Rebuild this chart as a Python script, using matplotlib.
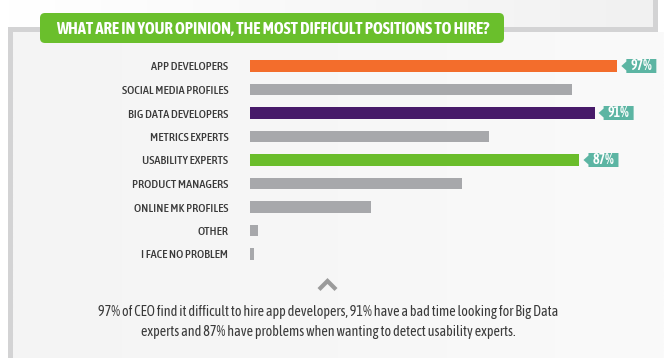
import numpy as np
import matplotlib
matplotlib.use("Agg")
import matplotlib.pyplot as plt
import matplotlib.transforms as mtransforms
from matplotlib.patches import Rectangle, FancyBboxPatch, Polygon

# data
positions = ["APP DEVELOPERS", "SOCIAL MEDIA PROFILES", "BIG DATA DEVELOPERS",
             "METRICS EXPERTS", "USABILITY EXPERTS", "PRODUCT MANAGERS",
             "ONLINE MK PROFILES", "OTHER", "I FACE NO PROBLEM"]
percent = [97, 85, 91, 63, 87, 56, 32, 2, 1]
bar_colors = ["#f36d2c", "#a7a8ab", "#471a69", "#a7a8ab", "#6abd2b",
              "#a7a8ab", "#a7a8ab", "#a7a8ab", "#a7a8ab"]
tagged = ["APP DEVELOPERS", "BIG DATA DEVELOPERS", "USABILITY EXPERTS"]

title = "WHAT ARE IN YOUR OPINION, THE MOST DIFFICULT POSITIONS TO HIRE?"
note = ("97% of CEO find it difficult to hire app developers, 91% have a bad time looking for Big Data\n"
        "experts and 87% have problems when wanting to detect usability experts.")

NARROW = ["Asap Condensed", "DejaVu Sans"]
W, H = 664, 358

fig = plt.figure(figsize=(W / 100, H / 100), dpi=100, facecolor="white")

# background / frame, in pixel coordinates
bg = fig.add_axes([0, 0, 1, 1])
bg.axis("off")

grad = np.linspace(0, 1, 256)[None, :]
top_cmap = matplotlib.colors.LinearSegmentedColormap.from_list("t", ["#ffffff", "#f1f1f1"])
low_cmap = matplotlib.colors.LinearSegmentedColormap.from_list("l", ["#f4f4f4", "#fafafa"])
bg.imshow(grad, cmap=top_cmap, extent=[8, 653, 27, 0], aspect="auto", zorder=0)
bg.imshow(grad, cmap=low_cmap, extent=[13, W, H, 32], aspect="auto", zorder=0)
frame = "#d3d3d4"
bg.add_patch(Rectangle((8, 27), 650, 5, color=frame, lw=0, zorder=1))
bg.add_patch(Rectangle((653, 0), 5, 32, color=frame, lw=0, zorder=1))
bg.add_patch(Rectangle((8, 27), 5, H - 27, color=frame, lw=0, zorder=1))
bg.set_xlim(0, W)
bg.set_ylim(H, 0)

# title box
bg.add_patch(FancyBboxPatch((40, 13), 464, 30, boxstyle="round,pad=0,rounding_size=5",
                            fc="#6abf2c", ec="none", zorder=2))
bg.text(273, 28.5, title, ha="center", va="center", color="white", fontsize=12,
        fontweight="bold", family=NARROW, zorder=3)

# caret and note
bg.plot([319, 327.5, 336], [289.5, 281, 289.5], color="#9b9b9b", lw=3, solid_capstyle="butt",
        solid_joinstyle="miter", zorder=2)
bg.text(328, 322, note, ha="center", va="center", color="#3a3a3a", fontsize=10.2,
        family=NARROW, linespacing=1.5, zorder=2)

# bar chart
x0, px_per_unit = 250, 3.787
y_first, step = 66, 23.5
top_px = y_first - step / 2
bot_px = y_first + step * (len(positions) - 0.5)
ax = fig.add_axes([x0 / W, 1 - bot_px / H, 100 * px_per_unit / W, (bot_px - top_px) / H])
ax.patch.set_alpha(0)
y = np.arange(len(positions))
ax.barh(y, percent, height=0.51, color=bar_colors, zorder=2)
ax.set_xlim(0, 100)
ax.set_ylim(len(positions) - 0.5, -0.5)
ax.set_yticks(y)
ax.set_yticklabels(positions, family=NARROW, fontsize=8.8, fontweight="medium", color="#3a3a3a")
ax.tick_params(axis="y", length=0, pad=15.5)
ax.set_xticks([])
for s in ax.spines.values():
    s.set_visible(False)

# value tags (arrow shaped, pixel offsets from bar end)
px = mtransforms.Affine2D().scale(fig.dpi / 100)
for i, (name, v) in enumerate(zip(positions, percent)):
    if name not in tagged:
        continue
    anchor = mtransforms.ScaledTranslation(v, i, ax.transData)
    verts = [(4, 0), (9, 4.5), (9, 7), (39, 7), (39, -7), (9, -7), (9, -4.5)]
    ax.add_patch(Polygon(verts, closed=True, fc="#5cb5a3", ec="none",
                         transform=px + anchor, clip_on=False, zorder=3))
    ax.annotate(f"{v}%", (v, i), xytext=(24 * 0.72, 0), textcoords="offset points",
                ha="center", va="center", color="white", fontsize=10,
                fontweight="semibold", family=NARROW, annotation_clip=False, zorder=4)

fig.savefig("out.png", dpi=100, facecolor="white")
